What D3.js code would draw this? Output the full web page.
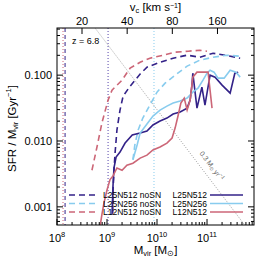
<!DOCTYPE html>
<html>
<head>
<meta charset="utf-8">
<script src="https://cdn.jsdelivr.net/npm/d3@7"></script>
<style>
  body { margin: 0; background: #fff; }
  svg { display: block; font-family: "Liberation Sans", Arial, sans-serif; }
</style>
</head>
<body>
<div id="chart"></div>
<script>
// series, [Mvir in Msun, SFR/Mvir in Gyr^-1]
const l25n512NoSN = [[1.30e9, 0.00081], [1.32e9, 0.0018], [1.38e9, 0.0036], [1.45e9, 0.0066], [1.58e9, 0.0147], [1.82e9, 0.0295], [2.1e9, 0.048], [2.9e9, 0.068], [4.6e9, 0.104], [6.3e9, 0.132], [1.15e10, 0.157], [2.1e10, 0.181], [4.0e10, 0.201], [7.2e10, 0.187], [1.32e11, 0.215], [2.3e11, 0.201], [4.6e11, 0.181]];
const l25n256NoSN = [[3.3e9, 0.0052], [3.6e9, 0.0087], [4.2e9, 0.0147], [5.2e9, 0.0223], [7.2e9, 0.0351], [1.0e10, 0.0552], [1.45e10, 0.0756], [2.3e10, 0.1], [4.0e10, 0.137], [7.2e10, 0.169], [1.32e11, 0.187], [2.5e11, 0.201], [4.6e11, 0.194]];
const l12n512NoSN = [[5.0e8, 0.0036], [6.3e8, 0.0081], [7.9e8, 0.0187], [1.05e9, 0.0418], [1.26e9, 0.0593], [2.0e9, 0.084], [2.9e9, 0.128], [4.6e9, 0.157], [7.2e9, 0.181], [1.32e10, 0.201], [2.3e10, 0.223], [4.2e10, 0.231], [7.2e10, 0.239], [1.0e11, 0.231]];
const l25n512 = [[1.26e9, 0.00076], [1.32e9, 0.00215], [1.38e9, 0.0039], [1.52e9, 0.0057], [1.82e9, 0.0068], [2.3e9, 0.0093], [3.2e9, 0.0123], [4.6e9, 0.0132], [6.3e9, 0.0142], [8.3e9, 0.0175], [1.15e10, 0.0201], [1.58e10, 0.0223], [2.1e10, 0.0257], [2.9e10, 0.0275], [4.0e10, 0.0316], [4.6e10, 0.0418], [5.0e10, 0.0705], [5.2e10, 0.107], [6.3e10, 0.0316], [7.9e10, 0.0658], [9.1e10, 0.0351], [1.15e11, 0.1], [1.45e11, 0.0933], [2.0e11, 0.0705], [2.9e11, 0.0534], [3.6e11, 0.107], [4.2e11, 0.111]];
const l25n256 = [[3.3e9, 0.0052], [4.0e9, 0.0087], [4.6e9, 0.0132], [6.3e9, 0.0181], [8.3e9, 0.0239], [1.15e10, 0.0295], [1.58e10, 0.0339], [2.1e10, 0.0377], [2.9e10, 0.0404], [4.0e10, 0.0448], [5.2e10, 0.0552], [6.6e10, 0.0636], [8.3e10, 0.084], [1.0e11, 0.107], [1.15e11, 0.119], [1.38e11, 0.111], [1.66e11, 0.0901], [2.2e11, 0.0901], [2.9e11, 0.119], [3.8e11, 0.111], [4.6e11, 0.0933]];
const l12n512 = [[7.2e8, 0.00048], [7.9e8, 0.00076], [8.7e8, 0.00115], [1.0e9, 0.0018], [1.15e9, 0.0026], [1.32e9, 0.00295], [1.58e9, 0.0039], [2.0e9, 0.0036], [2.5e9, 0.0043], [3.3e9, 0.0046], [4.6e9, 0.0055], [6.3e9, 0.0061], [8.3e9, 0.0073], [1.15e10, 0.0081], [1.58e10, 0.0093], [2.0e10, 0.0111], [2.3e10, 0.0157], [2.6e10, 0.0231], [3.0e10, 0.0377], [3.5e10, 0.0448], [4.0e10, 0.0295], [4.6e10, 0.0418], [5.2e10, 0.0933], [6.3e10, 0.111], [1.05e11, 0.111], [1.26e11, 0.0316]];

// resolution limits (vertical lines)
const limits = [
  { m: 1.32e8, color: "#cc6677", dash: "1,2" },
  { m: 1.45e8, color: "#332288", dash: "4,3" },
  { m: 1.05e9, color: "#5544aa", dash: "1,2" },
  { m: 8.7e9, color: "#88ccee", dash: "1,2" }
];

const xTicks = [1e8, 1e9, 1e10, 1e11];
const xExp = ["8", "9", "10", "11"];
const yTicks = [0.001, 0.01, 0.1];
const yTickLabels = ["0.001", "0.010", "0.100"];
const vTicks = [20, 40, 80, 160];
const sfrConst = 0.3; // Msun/yr

const indigo = "#332288", cyan = "#88ccee", rose = "#cc6677";

const width = 264, height = 270;
const m = { left: 57, right: 10, top: 28, bottom: 45 };
const w = width - m.left - m.right, h = height - m.top - m.bottom;

const svg = d3.select("#chart").append("svg")
  .attr("width", width).attr("height", height);

const x = d3.scaleLog().domain([1e8, 8.7e11]).range([0, w]);
const y = d3.scaleLog().domain([5.3e-4, 0.52]).range([h, 0]);
// v_c ~ M^(1/3), v = 20 km/s at M = 10^8.5
const vOfM = mm => 20 * Math.pow(mm / Math.pow(10, 8.5), 1 / 3);
const xv = d3.scaleLog().domain([vOfM(1e8), vOfM(8.7e11)]).range([0, w]);

svg.append("defs").append("clipPath").attr("id", "clip")
  .append("rect").attr("width", w).attr("height", h);

const g = svg.append("g").attr("transform", `translate(${m.left},${m.top})`);
const plot = g.append("g").attr("clip-path", "url(#clip)");

// vertical limit lines
limits.forEach(d => {
  plot.append("line")
    .attr("x1", x(d.m)).attr("x2", x(d.m))
    .attr("y1", 0).attr("y2", h)
    .attr("stroke", d.color).attr("stroke-width", 1)
    .attr("stroke-dasharray", d.dash);
});

// constant SFR line
const sfrLine = [1e8, 1e12].map(mm => [mm, sfrConst * 1e9 / mm]);
const line = d3.line().x(d => x(d[0])).y(d => y(d[1]));
plot.append("path").attr("d", line(sfrLine))
  .attr("fill", "none").attr("stroke", "#888").attr("stroke-width", 0.8)
  .attr("stroke-dasharray", "1,1.5");

const series = [
  { data: l25n512NoSN, color: indigo, dash: "6,4" },
  { data: l25n256NoSN, color: cyan, dash: "6,4" },
  { data: l12n512NoSN, color: rose, dash: "6,4" },
  { data: l25n512, color: indigo, dash: null },
  { data: l25n256, color: cyan, dash: null },
  { data: l12n512, color: rose, dash: null }
];
series.forEach(s => {
  plot.append("path").attr("d", line(s.data))
    .attr("fill", "none").attr("stroke", s.color).attr("stroke-width", 1.6)
    .attr("stroke-dasharray", s.dash);
});

// frame
g.append("rect").attr("width", w).attr("height", h)
  .attr("fill", "none").attr("stroke", "#000").attr("stroke-width", 1);

// ticks (inward, all sides)
const tickG = g.append("g").attr("stroke", "#000").attr("stroke-width", 1);
const xMinor = [];
for (let e = 8; e <= 11; e++) for (let k = 1; k <= 9; k++) {
  const v = k * Math.pow(10, e);
  if (v <= 8.7e11) xMinor.push({ v, major: k === 1 });
}
xMinor.forEach(t => {
  const len = t.major ? 6 : 3;
  tickG.append("line").attr("x1", x(t.v)).attr("x2", x(t.v)).attr("y1", h).attr("y2", h - len);
});
const yMinor = [];
for (let e = -4; e <= -1; e++) for (let k = 1; k <= 9; k++) {
  const v = k * Math.pow(10, e);
  if (v >= 5.3e-4 && v <= 0.52) yMinor.push({ v, major: k === 1 });
}
yMinor.forEach(t => {
  const len = t.major ? 6 : 3;
  tickG.append("line").attr("x1", 0).attr("x2", len).attr("y1", y(t.v)).attr("y2", y(t.v));
  tickG.append("line").attr("x1", w).attr("x2", w - len).attr("y1", y(t.v)).attr("y2", y(t.v));
});
vTicks.forEach(v => {
  tickG.append("line").attr("x1", xv(v)).attr("x2", xv(v)).attr("y1", 0).attr("y2", 6);
});

// tick labels
const xl = g.append("g").attr("font-size", 11).attr("fill", "#000");
xTicks.forEach((t, i) => {
  const tx = xl.append("text").attr("x", x(t)).attr("y", h + 17).attr("text-anchor", "middle");
  tx.append("tspan").text("10");
  tx.append("tspan").attr("dy", -5).attr("font-size", 7.5).text(xExp[i]);
});
yTicks.forEach((t, i) => {
  xl.append("text").attr("x", -5).attr("y", y(t) + 4).attr("text-anchor", "end").text(yTickLabels[i]);
});
vTicks.forEach(v => {
  xl.append("text").attr("x", xv(v)).attr("y", -3).attr("text-anchor", "middle").text(v);
});

// axis titles
const bt = g.append("text").attr("x", w / 2).attr("y", h + 29).attr("text-anchor", "middle").attr("font-size", 11.5);
bt.append("tspan").text("M");
bt.append("tspan").attr("font-size", 7.5).attr("dy", 2).text("vir");
bt.append("tspan").attr("dy", -2).text(" [M");
bt.append("tspan").attr("font-size", 7.5).attr("dy", 2).text("⊙");
bt.append("tspan").attr("dy", -2).text("]");

const tt = g.append("text").attr("x", w / 2).attr("y", -17).attr("text-anchor", "middle").attr("font-size", 11.5);
tt.append("tspan").text("v");
tt.append("tspan").attr("font-size", 7.5).attr("dy", 1.5).text("c");
tt.append("tspan").attr("dy", -1.5).text(" [km s");
tt.append("tspan").attr("font-size", 7).attr("dy", -3.5).text("−1");
tt.append("tspan").attr("dy", 3.5).text("]");

const yt = svg.append("text").attr("transform", `translate(16,${m.top + h / 2 + 2}) rotate(-90)`)
  .attr("text-anchor", "middle").attr("font-size", 11.5);
yt.append("tspan").text("SFR / M");
yt.append("tspan").attr("font-size", 7.5).attr("dy", 2).text("vir");
yt.append("tspan").attr("dy", -2).text(" [Gyr");
yt.append("tspan").attr("font-size", 7.5).attr("dy", -5).text("−1");
yt.append("tspan").attr("dy", 5).text("]");

// redshift label
g.append("text").attr("x", 15).attr("y", 16).attr("font-size", 9).text("z = 6.8");

// constant SFR label
const lm = 9e10;
const ang = Math.atan2(y(sfrConst * 1e9 / (lm * 10)) - y(sfrConst * 1e9 / lm), x(lm * 10) - x(lm)) * 180 / Math.PI;
const lab = g.append("text")
  .attr("transform", `translate(${x(lm) + 5},${y(sfrConst * 1e9 / lm) - 5}) rotate(${ang})`)
  .attr("text-anchor", "middle").attr("font-size", 7).attr("fill", "#666");
lab.append("tspan").text("0.3 M");
lab.append("tspan").attr("font-size", 5).attr("dy", 1.5).text("⊙");
lab.append("tspan").attr("dy", -1.5).text(" yr");
lab.append("tspan").attr("font-size", 5).attr("dy", -3).text("−1");

// legend
const legLeft = [
  { name: "L25N512 noSN", color: indigo },
  { name: "L25N256 noSN", color: cyan },
  { name: "L12N512 noSN", color: rose }
];
const legRight = [
  { name: "L25N512", color: indigo },
  { name: "L25N256", color: cyan },
  { name: "L12N512", color: rose }
];
const leg = g.append("g").attr("font-size", 8.5);
legLeft.forEach((d, i) => {
  const yy = 167 + i * 8.5;
  leg.append("line").attr("x1", 12).attr("x2", 41).attr("y1", yy).attr("y2", yy)
    .attr("stroke", d.color).attr("stroke-width", 1.6).attr("stroke-dasharray", "6,4");
  leg.append("text").attr("x", 46).attr("y", yy + 3).text(d.name);
});
legRight.forEach((d, i) => {
  const yy = 167 + i * 8.5;
  leg.append("line").attr("x1", 153).attr("x2", 186).attr("y1", yy).attr("y2", yy)
    .attr("stroke", d.color).attr("stroke-width", 1.6);
  leg.append("text").attr("x", 150).attr("y", yy + 3).attr("text-anchor", "end").text(d.name);
});
</script>
</body>
</html>
